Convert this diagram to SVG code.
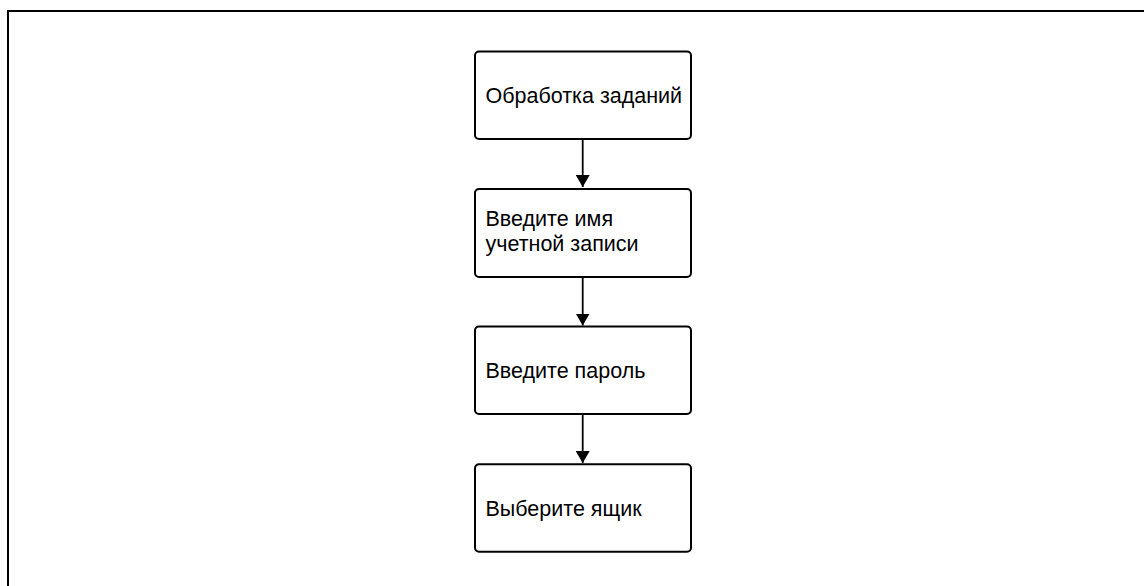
<svg xmlns="http://www.w3.org/2000/svg" width="1144" height="586" viewBox="0 0 1144 586">
<defs>
<marker id="arr" viewBox="0 0 12 14" refX="12" refY="7" markerWidth="12" markerHeight="14" markerUnits="userSpaceOnUse" orient="auto">
<path d="M0,0 L12,7 L0,14 Z" fill="#000"/>
</marker>
<style>
.box{fill:#fff;stroke:#000;stroke-width:2}
.t{font-family:"Liberation Sans",Arial,sans-serif;font-size:21.5px;fill:#000}
.c{stroke:#000;stroke-width:1.8;fill:none}
</style>
</defs>
<rect width="1144" height="586" fill="#fff"/>
<path d="M8,586 V11 H1144" fill="none" stroke="#000" stroke-width="2"/>
<g id="connectors">
<line class="c" x1="582.7" y1="139" x2="582.7" y2="187" marker-end="url(#arr)"/>
<line class="c" x1="582.7" y1="277" x2="582.7" y2="325.5" marker-end="url(#arr)"/>
<line class="c" x1="582.7" y1="414" x2="582.7" y2="463" marker-end="url(#arr)"/>
</g>
<g id="n1">
<rect class="box" x="475" y="51.5" width="216" height="87.5" rx="4"/>
<text class="t" x="485.5" y="103">Обработка заданий</text>
</g>
<g id="n2">
<rect class="box" x="475" y="189" width="216" height="88" rx="4"/>
<text class="t" x="485.5" y="226">Введите имя</text>
<text class="t" x="485.5" y="250.5">учетной записи</text>
</g>
<g id="n3">
<rect class="box" x="475" y="326.5" width="216" height="87.5" rx="4"/>
<text class="t" x="485.5" y="377.5">Введите пароль</text>
</g>
<g id="n4">
<rect class="box" x="475" y="464.3" width="216" height="87.5" rx="4"/>
<text class="t" x="485.5" y="515.5">Выберите ящик</text>
</g>
</svg>
